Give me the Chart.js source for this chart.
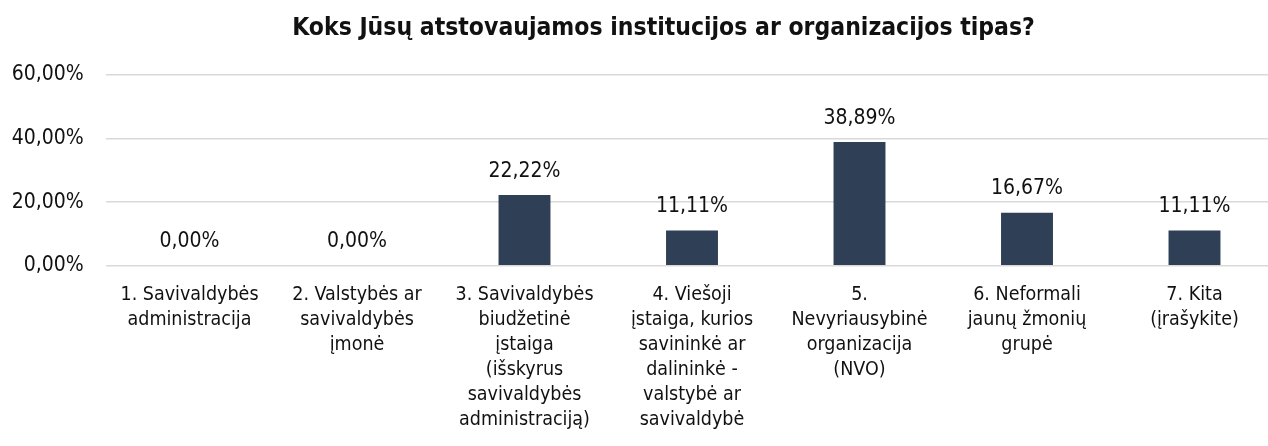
<!DOCTYPE html>
<html>
<head>
<meta charset="utf-8">
<script src="https://cdn.jsdelivr.net/npm/chart.js@4/dist/chart.umd.min.js"></script>
<style>
  html, body { margin: 0; padding: 0; background: #ffffff; overflow: hidden; }
  #wrap { width: 1268px; height: 446px; overflow: hidden; position: relative; }
  #c { position: absolute; left: 0; top: 0; }
</style>
</head>
<body>
<div id="wrap"><canvas id="c" width="1327" height="446"></canvas></div>
<script>
const chartTitle = "Koks Jūsų atstovaujamos institucijos ar organizacijos tipas?";
const categories = [
  ["1. Savivaldybės", "administracija"],
  ["2. Valstybės ar", "savivaldybės", "įmonė"],
  ["3. Savivaldybės", "biudžetinė", "įstaiga", "(išskyrus", "savivaldybės", "administraciją)"],
  ["4. Viešoji", "įstaiga, kurios", "savininkė ar", "dalininkė -", "valstybė ar", "savivaldybė"],
  ["5.", "Nevyriausybinė", "organizacija", "(NVO)"],
  ["6. Neformali", "jaunų žmonių", "grupė"],
  ["7. Kita", "(įrašykite)"]
];
const percentValues = [0.00, 0.00, 22.22, 11.11, 38.89, 16.67, 11.11];
const yTickValues = [0, 20, 40, 60];

const FONT = "'DejaVu Sans Condensed', 'DejaVu Sans', sans-serif";
const TEXT = "#111111";
const TITLE_FONT = { family: FONT, size: 24.5, weight: 'bold', lineHeight: 1.2 };
const fmt = v => v.toFixed(2).replace('.', ',') + '%';

// Value labels above bars
const valueLabels = {
  id: 'valueLabels',
  afterDatasetsDraw(chart) {
    const ctx = chart.ctx;
    const meta = chart.getDatasetMeta(0);
    ctx.save();
    ctx.font = "21px " + FONT;
    ctx.fillStyle = TEXT;
    ctx.textAlign = 'center';
    ctx.textBaseline = 'middle';
    meta.data.forEach((bar, i) => {
      ctx.fillText(fmt(chart.data.datasets[0].data[i]), bar.x, bar.y - 24);
    });
    ctx.restore();
  }
};

// Title drawn centred on the whole canvas (space reserved by the built-in title)
const centredTitle = {
  id: 'centredTitle',
  afterDraw(chart) {
    const tb = chart.titleBlock;
    const ctx = chart.ctx;
    ctx.save();
    ctx.font = "bold " + TITLE_FONT.size + "px " + FONT;
    ctx.fillStyle = TEXT;
    ctx.textAlign = 'center';
    ctx.textBaseline = 'middle';
    const y = tb.top + tb.options.padding.top + (TITLE_FONT.size * TITLE_FONT.lineHeight) / 2;
    ctx.fillText(chartTitle, chart.width / 2, y);
    ctx.restore();
  }
};

new Chart(document.getElementById('c'), {
  type: 'bar',
  data: {
    labels: categories,
    datasets: [{
      data: percentValues,
      backgroundColor: '#2E3F56',
      borderWidth: 0,
      categoryPercentage: 1.0,
      barPercentage: 0.31
    }]
  },
  options: {
    responsive: false,
    animation: false,
    devicePixelRatio: 1,
    layout: { padding: { left: 0, right: 48.75, top: 0, bottom: 0 } },
    plugins: {
      legend: { display: false },
      tooltip: { enabled: false },
      title: {
        display: true,
        text: chartTitle,
        color: 'rgba(0,0,0,0)',
        font: TITLE_FONT,
        padding: { top: 14.3, bottom: 31.3 }
      }
    },
    scales: {
      x: {
        grid: { display: false },
        border: { display: false },
        ticks: {
          color: TEXT,
          font: { family: FONT, size: 19.5, lineHeight: '25px' },
          maxRotation: 0,
          minRotation: 0,
          autoSkip: false,
          padding: 9
        },
        afterFit(scale) { scale.height = 180.3; }
      },
      y: {
        min: 0,
        max: 60,
        afterBuildTicks(scale) { scale.ticks = yTickValues.map(v => ({ value: v })); },
        grid: { color: '#D9D9D9', lineWidth: 1.5, drawTicks: false },
        border: { display: false },
        ticks: {
          color: TEXT,
          font: { family: FONT, size: 21 },
          padding: 22,
          callback: v => fmt(v)
        },
        afterFit(scale) { scale.width = 105.75; }
      }
    }
  },
  plugins: [valueLabels, centredTitle]
});
</script>
</body>
</html>
